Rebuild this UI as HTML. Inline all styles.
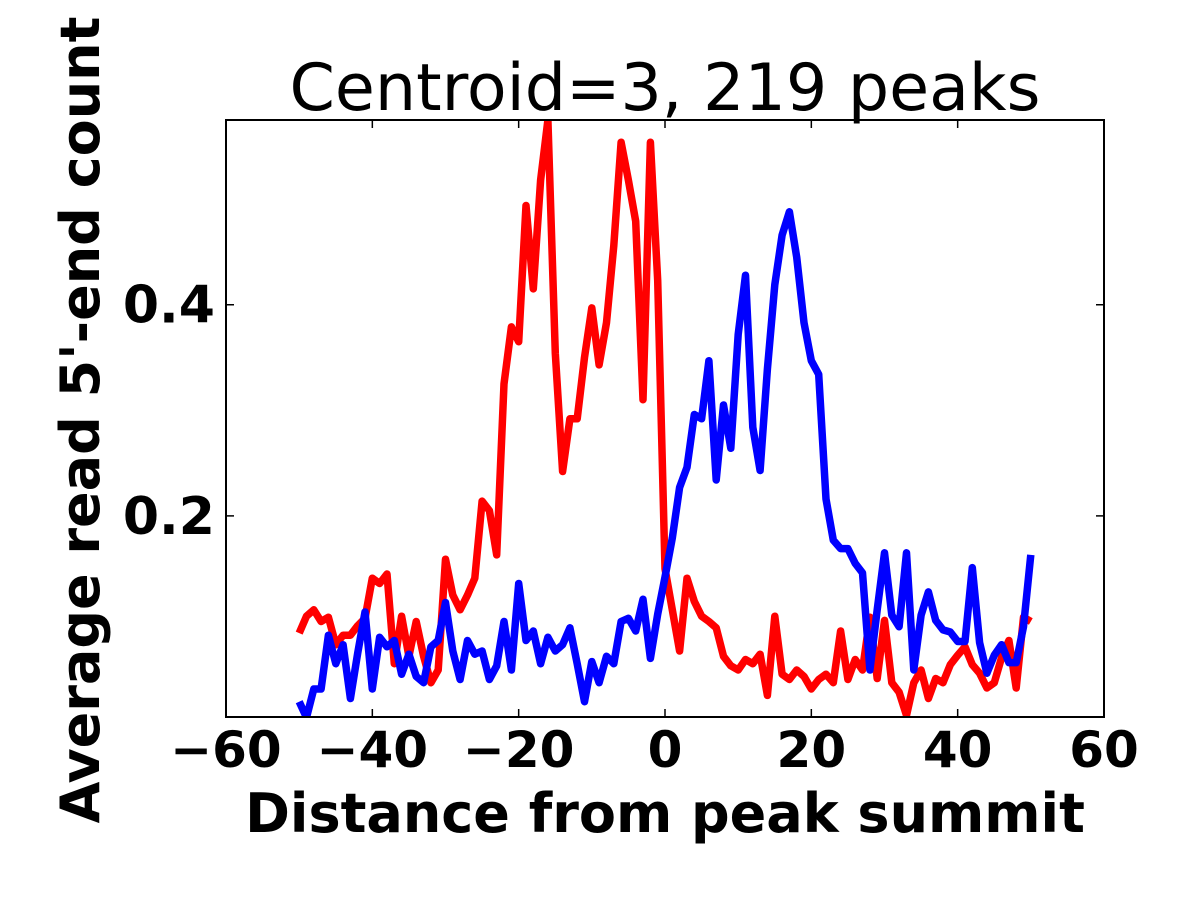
<!DOCTYPE html>
<html><head><meta charset="utf-8"><style>
html,body{margin:0;padding:0;background:#fff;}
svg{display:block;font-family:"DejaVu Sans","Liberation Sans",sans-serif;}
</style></head><body>
<svg id="chart" width="1200" height="900" viewBox="0 0 1200 900" xmlns="http://www.w3.org/2000/svg">
<rect x="0" y="0" width="1200" height="900" fill="#fff"/>
<text x="665" y="110" text-anchor="middle" font-size="65">Centroid=3, 219 peaks</text>
<text x="665" y="832" text-anchor="middle" font-size="54" font-weight="bold">Distance from peak summit</text>
<text transform="translate(99,420) rotate(-90)" text-anchor="middle" font-size="54" font-weight="bold">Average read 5'-end count</text>
<g id="plot"></g>
</svg>
<script>
const xTicks = [-60, -40, -20, 0, 20, 40, 60];
const xTickLabels = ["\u221260", "\u221240", "\u221220", "0", "20", "40", "60"];
const yTicks = [0.2, 0.4];
const yTickLabels = ["0.2", "0.4"];
const xStart = -50;
const redValues = [.089,.105,.111,.100,.104,.078,.087,.087,.096,.103,.141,.136,.145,.060,.105,.067,.100,.067,.042,.054,.159,.125,.111,.125,.141,
.214,.205,.163,.325,.379,.365,.494,.415,.518,.575,.354,.242,.292,.292,.350,.397,.343,.383,.456,.554,.518,.479,.310,.554,.423,
.150,.111,.072,.141,.119,.105,.100,.094,.067,.058,.054,.064,.060,.069,.030,.105,.050,.045,.054,.048,.036,.045,.050,.042,.091,.045,.064,
.054,.104,.046,.101,.042,.033,.011,.042,.054,.027,.046,.042,.059,.068,.076,.059,.051,.037,.042,.066,.082,.037,.104,.100];
const blueValues = [.024,.009,.036,.036,.087,.060,.078,.027,.070,.109,.036,.085,.076,.082,.050,.069,.048,.042,.076,.082,.118,.072,.045,.082,.069,
.072,.045,.058,.100,.054,.136,.082,.091,.060,.085,.072,.078,.094,.060,.024,.062,.042,.067,.060,.100,.103,.091,.121,.065,.107,
.142,.179,.227,.246,.296,.292,.347,.234,.305,.264,.372,.428,.284,.243,.339,.419,.466,.488,.445,.383,.347,.334,.216,.177,.169,.169,.155,
.146,.054,.111,.165,.106,.095,.165,.054,.106,.128,.101,.092,.090,.081,.081,.151,.080,.051,.068,.078,.061,.061,.095,.163];

const L=226,R=1104,T=120,B=717;
const xMin=-60,xMax=60,yMin=0.0095,yMax=0.575;
function sx(v){return L+(v-xMin)/(xMax-xMin)*(R-L);}
function sy(v){return B-(v-yMin)/(yMax-yMin)*(B-T);}
const NS="http://www.w3.org/2000/svg";
const g=document.getElementById('plot');
function mk(tag,attrs){const e=document.createElementNS(NS,tag);for(const k in attrs)e.setAttribute(k,attrs[k]);g.appendChild(e);return e;}

const defs=document.createElementNS(NS,'defs');
defs.innerHTML='<clipPath id="clip"><rect x="'+L+'" y="'+T+'" width="'+(R-L)+'" height="'+(B-T)+'"/></clipPath>';
g.appendChild(defs);

function series(vals,color,name){
  const pts=vals.map((v,i)=>sx(xStart+i).toFixed(1)+','+sy(v).toFixed(1)).join(' ');
  const p=mk('polyline',{points:pts,fill:'none',stroke:color,'stroke-width':7.5,'stroke-linejoin':'round','clip-path':'url(#clip)'});
  
  
}
series(redValues,'#ff0000','red-series-line');
series(blueValues,'#0000ff','blue-series-line');

const frame=mk('rect',{x:L,y:T,width:R-L,height:B-T,fill:'none',stroke:'#000','stroke-width':2});



xTicks.forEach((t,i)=>{
  const x=sx(t);
  const a=mk('line',{x1:x,y1:B,x2:x,y2:B-8,stroke:'#000','stroke-width':1.5});
  
  
  const b=mk('line',{x1:x,y1:T,x2:x,y2:T+8,stroke:'#000','stroke-width':1.5});
  
  
  const tx=mk('text',{x:x,y:767,'text-anchor':'middle','font-size':50,'font-weight':'bold'});
  tx.textContent=xTickLabels[i];
  
  
});
yTicks.forEach((t,i)=>{
  const y=sy(t);
  const a=mk('line',{x1:L,y1:y,x2:L+8,y2:y,stroke:'#000','stroke-width':1.5});
  
  
  const b=mk('line',{x1:R,y1:y,x2:R-8,y2:y,stroke:'#000','stroke-width':1.5});
  
  
  const tx=mk('text',{x:215,y:y+18,'text-anchor':'end','font-size':52,'font-weight':'bold'});
  tx.textContent=yTickLabels[i];
  
  
});
</script>
</body></html>
